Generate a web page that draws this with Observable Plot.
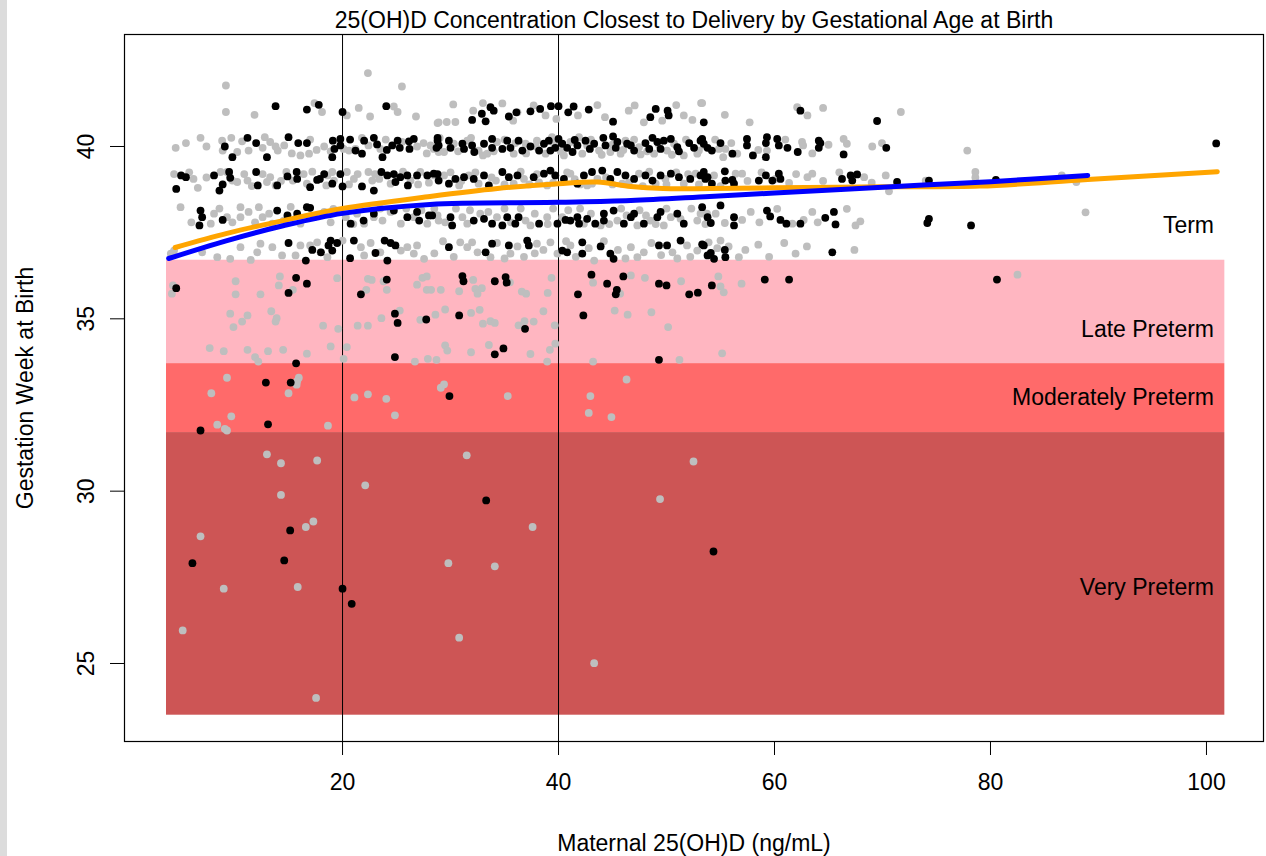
<!DOCTYPE html>
<html>
<head>
<meta charset="utf-8">
<script src="https://cdn.jsdelivr.net/npm/d3@7"></script>
<script src="https://cdn.jsdelivr.net/npm/@observablehq/plot@0.6"></script>
<style>
  html, body { margin: 0; padding: 0; background: #fff; }
  #chart { position: relative; width: 1266px; height: 856px; }
  #edge { position: absolute; left: 0; top: 0; width: 7px; height: 856px; background: #dcdcdc; z-index: 2; }
</style>
</head>
<body>
<div id="chart"><div id="edge"></div></div>
<script>
// ---- Text ----
const title = "25(OH)D Concentration Closest to Delivery by Gestational Age at Birth";
const xLabel = "Maternal 25(OH)D (ng/mL)";
const yLabel = "Gestation Week at Birth";
const xTicks = [20, 40, 60, 80, 100];
const yTicks = [25, 30, 35, 40];

// ---- Gestational-age categories (weeks) ----
const bandNames = ["Term", "Late Preterm", "Moderately Preterm", "Very Preterm"];
const bandLow = [36.7, 33.7, 31.7, 23.5];
const bandHigh = [null, 36.7, 33.7, 31.7];
const bandFill = [null, "#FFB6C1", "#FF6A6A", "#CD5555"];
const bandLabelWeek = [37.7, 34.7, 32.7, 27.2];
const bandRange = [3.7, 101.7];     // 25(OH)D span covered by the shaded bands
const bandLabelAt = 100.7;          // labels are right-aligned here
const cutoffs = [20, 40];           // 25(OH)D reference lines (ng/mL)

// ---- Mothers: [25(OH)D, gestation week] ----
// grey: comparison group, black: highlighted group
const termGrey = [
  [9.2,41.77],[22.35,42.13],[25.5,41.74],[9.2,41.0],[11.85,40.92],[17.4,41.26],[18.1,41.0],[20.4,40.9],[21.5,41.12],[24.75,41.16],[25.1,41.0],[22.55,40.87],[26.8,40.87],[28.9,40.7],
  [4.55,39.96],[6.85,40.25],[7.4,40.0],[8.85,40.17],[9.7,40.25],[8.9,39.88],[10.25,39.84],[11.3,39.88],[12.6,39.96],[13.3,40.13],[13.8,40.0],[14.0,39.88],[14.6,40.03],[16.1,39.74],[16.9,39.79],[17.6,39.9],[18.3,40.0],[20.1,39.93],[20.6,39.88],[21.2,39.93],[22.4,40.03],[23.5,39.93],[25.5,40.13],[26.9,40.0],[27.5,40.1],[28.15,40.03],[28.9,39.84],
  [5.5,40.1],[10.7,40.15],[12.8,40.27],[15.3,39.8],[17.0,40.2],[18.9,39.86],[21.8,40.25],[24.0,40.2],[27.8,39.8],
  [4.4,39.2],[6.2,39.06],[6.6,38.8],[8.7,39.26],[9.3,39.26],[9.8,39.01],[10.25,38.97],[10.9,39.2],[11.2,39.01],[12.6,39.2],[13.0,38.97],[13.3,39.11],[13.8,38.87],[14.8,39.26],[15.4,39.01],[16.4,39.2],[16.7,38.92],[18.6,39.16],[19.05,39.26],[19.2,39.01],[18.5,38.87],[20.4,39.26],[21.05,39.06],[21.4,39.2],[22.4,39.26],[22.75,39.01],[23.4,39.06],[24.45,38.92],[26.3,39.01],[27.2,39.26],[28.5,39.16],
  [5.8,39.25],[7.4,39.1],[11.6,38.85],[14.3,39.0],[17.2,39.27],[20.6,38.9],[23.0,39.2],[25.6,39.27],[27.0,38.9],
  [5.0,38.24],[8.1,38.05],[7.8,37.76],[9.3,37.95],[9.8,37.8],[10.55,38.24],[10.55,37.95],[11.3,38.1],[12.25,38.24],[12.6,37.95],[13.2,38.05],[13.5,37.76],[14.55,37.85],[16.1,37.76],[17.35,37.95],[18.3,38.1],[19.15,38.19],[20.3,37.95],[21.35,38.05],[22.0,37.76],[22.9,37.95],[23.7,37.85],[24.45,38.1],[25.4,37.76],[26.6,37.95],[27.85,37.76],[28.8,38.0],
  [6.0,37.8],[8.6,38.2],[11.9,37.8],[15.2,38.25],[18.9,37.8],[21.0,37.75],[23.5,38.2],[25.9,38.2],[27.3,38.15],
  [4.1,36.89],[4.4,36.98],[7.0,36.93],[8.4,36.79],[9.6,36.74],[10.55,37.08],[11.5,36.71],[12.1,36.93],[12.4,37.18],[13.5,37.08],[14.4,36.84],[15.65,36.84],[16.1,37.13],[17.0,37.13],[17.65,37.22],[17.95,36.93],[18.6,36.79],[20.0,37.27],[21.7,37.08],[22.0,36.84],[22.6,37.2],[23.5,36.93],[25.4,36.98],[26.0,37.08],[26.6,36.89],[26.9,37.13],[27.55,36.74],
  [30.25,41.22],[28.8,40.68],[29.65,40.71],[30.45,40.71],[32.1,41.04],[33.0,41.26],[36.2,40.99],[37.7,41.19],[46.5,41.04],[47.05,41.19],[47.9,40.7],[51.6,40.9],[52.4,40.77],[53.2,41.26],
  [34.8,41.25],[35.8,40.75],[38.8,40.9],[39.8,40.8],[41.8,40.9],[43.6,41.2],[44.3,40.85],[49.6,40.75],[50.9,41.2],
  [28.45,39.93],[29.4,39.84],[30.3,40.08],[31.55,40.17],[32.6,39.88],[33.4,39.79],[34.3,40.13],[35.85,39.79],[36.95,40.08],[38.0,40.17],[38.8,39.79],[39.6,40.08],[40.5,39.74],[41.1,40.13],[42.2,39.79],[42.65,40.03],[43.75,39.88],[44.8,39.84],[45.75,39.79],[46.2,40.17],[47.45,39.98],[47.6,39.77],[48.85,39.79],[50.05,39.88],[50.7,40.08],[51.6,39.74],[52.85,39.79],[53.45,40.03],
  [29.0,40.25],[30.7,39.86],[31.9,40.25],[33.0,39.74],[34.0,39.86],[35.0,40.2],[36.0,40.1],[37.0,39.8],[37.9,40.0],[39.4,40.27],[40.2,39.86],[41.9,40.27],[43.0,40.2],[44.0,39.76],[45.0,40.05],[46.0,39.9],[47.0,40.2],[48.2,39.86],[49.3,40.05],[50.5,39.76],[51.8,40.2],[53.0,39.88],[54.5,40.2],[56.0,40.1],[58.5,39.9],[61.0,40.2],[63.5,39.8],[65.0,40.05],
  [29.4,39.16],[30.8,38.87],[31.7,39.16],[32.6,38.92],[34.2,39.01],[35.85,38.92],[36.8,39.06],[38.2,38.96],[38.95,38.87],[41.1,39.21],[42.65,38.87],[43.6,39.06],[45.9,38.92],[47.45,39.21],[49.0,38.92],[49.9,39.06],[51.6,38.92],[52.7,39.21],
  [28.0,38.95],[30.0,39.25],[31.0,39.0],[32.3,39.25],[33.8,39.1],[35.0,38.9],[36.5,39.27],[37.3,38.9],[38.0,39.2],[39.5,38.95],[40.8,39.25],[41.5,39.05],[42.0,38.9],[43.1,38.92],[44.4,39.1],[45.0,38.9],[46.5,38.95],[47.8,38.85],[48.4,39.27],[50.0,38.9],[50.9,39.25],[52.0,39.2],[53.0,38.9],[55.0,38.85],[57.5,39.0],[58.8,39.25],[62.0,39.2],[64.5,39.0],[66.0,39.25],[69.0,38.95],
  [28.9,37.85],[31.1,37.95],[31.55,37.76],[32.75,38.05],[34.3,37.95],[36.95,37.85],[37.4,37.71],[38.95,37.95],[40.35,37.95],[42.35,37.76],[43.9,37.71],[45.45,37.85],[47.3,37.71],[48.5,37.85],[49.75,37.71],[50.4,37.95],[52.85,37.85],[53.15,38.05],
  [28.5,38.2],[29.5,37.8],[30.5,38.2],[31.8,38.15],[33.5,38.1],[35.0,38.2],[35.6,37.8],[36.5,38.2],[37.8,38.05],[39.0,37.75],[39.5,38.2],[40.9,38.15],[42.0,38.2],[43.0,38.05],[44.7,37.75],[45.8,38.2],[46.3,38.0],[47.5,38.15],[48.1,38.0],[49.0,37.75],[50.0,38.2],[51.3,37.9],[52.3,38.2],[53.6,37.75],[57.8,38.1],[58.6,37.8],[63.5,38.1],[64.0,37.8],
  [30.9,37.22],[31.55,37.08],[32.0,37.22],[32.5,36.93],[33.7,36.79],[35.55,36.89],[38.0,37.18],[39.25,37.22],[39.9,36.89],[41.1,37.13],[43.3,36.69],[46.7,37.08],[47.3,36.79],[47.9,36.93],[50.55,36.93],[51.9,37.13],[52.85,36.98],
  [28.5,36.9],[29.3,37.25],[30.3,36.8],[34.3,37.2],[35.0,36.75],[36.2,37.1],[36.8,36.8],[37.8,36.9],[38.6,37.0],[40.7,37.25],[41.6,36.8],[42.8,37.05],[44.2,37.25],[45.5,37.0],[46.2,36.75],[48.6,37.2],[49.5,36.85],[51.0,36.75],[52.2,36.8],[54.7,37.05],[58.5,37.15],[59.5,36.8],[63.0,37.1],
  [53.3,41.26],[55.4,40.92],[57.7,40.7],[62.1,41.14],[63.05,40.9],[64.5,41.12],[71.7,41.0],
  [54.85,39.93],[55.45,39.93],[55.25,39.69],[56.55,39.79],[59.3,39.88],[62.55,40.13],[62.65,40.03],[66.4,40.22],[66.7,40.08],[69.05,40.0],[69.95,40.1],[77.85,39.88],
  [54.4,39.16],[56.4,39.21],[57.0,39.21],[60.1,39.06],[61.35,38.94],[63.05,39.11],[63.5,39.21],[68.3,39.11],[70.3,39.16],[70.6,38.7],[74.0,39.01],[78.6,39.26],
  [53.75,38.05],[54.55,38.05],[55.4,37.78],[57.0,37.87],[60.25,38.19],[61.65,37.76],[62.7,37.87],[66.7,38.19],[67.5,37.71],[67.95,37.83],
  [53.9,37.22],[55.0,37.27],[55.75,37.1],[56.7,36.79],[57.3,37.0],[60.9,37.2],[61.95,36.89],[67.4,37.0],
  [78.6,39.1],[86.6,39.16],[87.95,38.97],[88.8,38.09]
];
const pretermGrey = [
  [4.3,35.97],[4.2,35.73],[10.1,36.09],[10.1,35.71],[12.4,35.71],[14.2,36.23],[14.1,35.97],[15.4,35.84],[19.5,36.18],[9.6,35.15],[11.2,35.10],[10.7,34.92],[9.9,34.76],[13.4,35.22],[13.9,35.02],[13.8,34.92],[18.2,34.8],[19.6,34.71],[7.7,34.15],[9.0,34.06],[11.2,34.1],[11.9,33.89],[12.2,33.76],[13.1,34.06],[14.5,34.1],[16.7,33.99],[18.9,34.2],[20.4,34.18],[20.1,33.84],[22.35,36.16],[22.7,36.13],[22.2,35.84],[24.1,35.84],[23.8,36.09],[25.3,35.24],[23.6,35.02],[21.4,34.8],[22.35,34.8],[26.7,33.76],[27.9,33.84],[28.7,33.81],[26.9,35.99],[27.4,36.19],[27.8,36.23],[27.8,35.84],[28.2,35.84],[29.1,35.84],[27.2,34.97],[28.6,35.12],[29.5,35.27],[29.5,34.23],[29.7,34.08],
  [9.3,33.29],[15.95,33.29],[15.8,33.19],[15.75,33.09],[15.0,32.84],[7.85,32.84],[9.7,32.17],[8.4,31.93],[9.1,31.81],[9.3,31.76],[18.65,31.9],[21.1,32.72],[22.35,32.81],[24.05,32.68],[24.85,32.2],[29.1,33.0],[29.4,33.1],
  [13.0,31.07],[14.3,30.81],[17.65,30.89],[14.3,29.89],[22.1,30.17],
  [49.4,29.77],[6.85,28.69],[16.6,28.96],[17.3,29.12],[37.6,28.96],[29.8,27.91],[34.1,27.82],[9.0,27.17],[15.85,27.22],[5.2,25.96],[30.8,25.75],[43.3,25.01],[17.55,24.0],
  [32.1,36.13],[35.5,36.06],[30.8,35.80],[32.3,35.87],[32.5,35.73],[32.9,35.89],[31.9,35.17],[32.7,35.26],[33.0,34.86],[33.7,34.93],[34.1,34.88],[36.6,35.79],[37.0,35.73],[39.0,35.75],[39.35,36.19],[38.6,35.22],[36.3,34.81],[36.85,34.93],[37.7,34.92],[39.65,34.81],[31.9,34.03],[33.55,34.24],[37.4,33.98],[39.2,34.1],[39.7,34.28],[38.95,33.76],
  [43.2,36.05],[46.7,36.26],[48.0,36.19],[45.7,35.73],[45.2,35.24],[46.4,35.12],[48.6,35.19],[51.35,36.09],[54.8,36.23],[55.0,35.94],[55.3,35.77],[50.15,34.76],[43.2,33.76],[51.2,33.81],[55.15,34.0],
  [35.3,32.76],[46.3,33.24],[42.95,32.76],[42.8,32.27],[44.9,32.15],[31.5,31.04],[52.5,30.86],
  [56.95,36.02],[82.5,36.28]
];
const termBlack = [
  [13.8,41.17],[16.7,41.07],[17.8,41.21],[20.0,41.0],[24.05,41.17],
  [9.1,40.0],[9.8,39.69],[11.2,40.25],[12.0,40.1],[13.0,39.69],[15.0,40.27],[15.9,40.1],[16.7,40.1],[19.1,40.17],[19.25,39.93],[19.8,40.22],[19.8,40.03],[19.05,39.69],[20.7,40.2],[21.2,39.88],[21.8,39.79],[22.0,40.17],[22.9,40.25],[23.2,40.06],[23.7,39.69],[24.1,39.9],[24.6,40.03],[25.1,40.17],[25.3,39.96],[26.15,40.15],[26.2,39.93],[26.6,40.22],[28.8,40.25],[28.7,39.96],
  [5.05,39.16],[5.5,39.11],[4.6,38.77],[8.1,39.16],[9.5,39.26],[9.6,39.09],[8.9,38.9],[8.6,38.72],[12.0,39.26],[12.15,38.87],[13.95,38.87],[14.9,39.13],[15.75,39.26],[15.8,39.06],[17.0,38.82],[17.65,39.03],[18.3,39.2],[17.9,39.06],[19.05,38.92],[19.8,39.2],[20.0,38.84],[21.8,38.84],[22.9,38.72],[23.6,39.26],[24.15,39.16],[24.75,39.2],[24.9,38.97],[25.35,39.11],[26.05,38.87],[26.0,39.16],[26.9,39.16],[27.85,39.16],[28.8,39.2],
  [6.85,38.14],[7.0,37.95],[6.75,37.71],[8.9,37.87],[13.95,38.14],[14.9,38.0],[15.8,38.05],[16.7,38.24],[17.0,38.22],[20.75,37.76],[21.95,37.85],[22.9,38.05],[24.75,38.14],[26.0,37.95],[26.9,38.1],[27.1,37.85],[28.0,38.0],
  [15.0,37.2],[16.6,36.69],[17.2,37.0],[18.0,36.93],[18.9,37.27],[19.05,36.98],[18.7,37.13],[19.5,37.2],[20.7,36.76],[21.05,37.27],[23.05,36.91],[23.9,37.27],[24.15,36.69],[24.45,37.2],[24.9,37.13],
  [32.0,40.77],[32.9,40.95],[33.25,40.73],[33.7,41.14],[34.0,41.04],[35.4,40.87],[36.1,40.99],[37.4,41.02],[38.3,41.09],[39.3,41.17],[40.0,41.17],[40.9,40.99],[41.4,41.16],[42.8,41.07],[45.05,40.72],[48.5,40.85],[49.0,41.09],[50.1,41.04],[50.2,40.9],
  [28.8,40.17],[28.9,40.03],[29.85,40.17],[30.0,39.96],[31.1,40.08],[31.25,39.93],[32.0,40.03],[32.2,39.84],[33.1,40.08],[33.85,40.22],[33.85,39.96],[34.8,39.93],[35.25,40.17],[35.55,39.96],[36.3,40.17],[36.65,39.88],[37.4,40.0],[38.2,39.88],[38.65,40.08],[39.1,40.17],[39.25,39.88],[39.7,39.96],[40.0,40.22],[40.35,40.08],[40.8,39.96],[41.3,39.84],[41.5,40.19],[41.75,40.03],[42.5,40.17],[42.9,39.93],[43.3,40.08],[44.15,40.25],[44.35,40.03],[45.05,40.29],[45.3,39.96],[45.45,40.13],[46.35,40.08],[46.7,40.03],[47.0,39.88],[48.05,40.1],[48.4,39.93],[48.7,40.25],[49.15,40.13],[49.45,39.93],[49.75,40.17],[50.4,40.22],[51.0,39.98],[51.15,39.86],[52.1,40.1],[52.55,39.96],[53.15,40.17],[53.8,39.96],
  [28.45,39.21],[28.9,39.01],[29.85,38.92],[30.45,39.06],[31.25,39.11],[32.15,39.06],[33.1,39.16],[33.55,38.87],[34.8,39.26],[35.4,39.11],[36.2,39.16],[37.7,39.11],[38.65,39.21],[39.25,39.3],[39.7,39.16],[40.5,39.06],[41.75,38.92],[42.35,39.16],[43.1,39.26],[44.05,39.3],[44.8,39.06],[45.45,39.26],[46.2,39.16],[47.0,39.06],[48.05,39.16],[48.7,39.01],[49.45,39.16],[50.4,39.21],[51.15,39.11],[52.2,39.06],[53.15,39.16],[53.8,39.11],
  [28.3,38.0],[30.0,37.95],[30.15,37.71],[32.15,37.85],[33.1,37.9],[33.85,37.76],[34.8,37.71],[35.25,37.95],[36.0,37.76],[36.3,37.95],[38.2,37.76],[39.9,37.76],[40.65,37.87],[41.1,37.85],[41.75,37.95],[41.9,37.76],[42.65,37.9],[43.4,37.76],[44.2,37.85],[44.2,38.05],[45.1,38.14],[46.05,37.76],[46.7,37.95],[47.0,38.05],[47.9,37.76],[49.15,37.95],[49.45,38.1],[51.0,38.05],[51.6,37.76],[53.8,37.95],
  [29.85,37.08],[33.25,36.93],[33.85,37.18],[35.4,37.13],[37.1,37.27],[37.25,37.13],[40.35,36.98],[40.8,36.93],[42.2,37.22],[42.2,36.89],[43.9,37.1],[44.8,36.89],[45.1,36.74],[49.3,37.13],[50.05,37.13],[51.3,37.27],[53.45,37.13],[53.8,36.84],
  [53.45,40.7],[62.4,41.04],[69.5,40.74],
  [53.3,40.22],[53.45,40.08],[55.0,40.1],[54.2,39.88],[56.1,39.79],[57.45,40.22],[57.45,40.03],[58.0,39.74],[59.2,40.1],[59.3,40.27],[59.2,39.69],[60.25,40.22],[60.4,40.03],[61.2,39.96],[62.15,39.84],[64.1,40.17],[64.1,39.96],[64.25,40.1],[66.4,39.77],[70.35,39.96],
  [53.45,39.26],[53.6,39.06],[54.2,38.92],[55.4,39.28],[55.45,39.01],[56.1,39.03],[56.25,38.92],[58.55,39.01],[59.2,39.16],[59.8,39.01],[60.4,39.21],[60.55,39.06],[66.25,39.06],[67.05,39.16],[67.2,39.01],[67.65,39.19],[71.35,38.97],[74.3,39.01],
  [53.3,38.24],[55.0,38.29],[54.1,37.78],[56.25,37.95],[56.25,37.71],[59.3,38.14],[59.6,37.97],[60.55,37.87],[61.1,37.76],[62.4,37.76],[64.7,37.93],[65.5,38.1],[65.65,37.74],[74.3,37.9],[74.15,37.78],[78.2,37.71],
  [53.3,37.16],[54.1,36.91],[54.4,36.74],[55.4,37.0],[55.45,36.79],[65.35,36.93],
  [80.5,39.03],[100.9,40.09]
];
const pretermBlack = [
  [4.6,35.89],[15.7,36.19],[16.7,36.02],[15.0,35.75],[24.1,36.14],[21.7,35.71],[24.85,35.15],[25.1,34.88],[24.85,33.89],[27.75,34.98],[15.7,33.71],[12.9,33.15],[15.2,33.15],[6.85,31.76],[13.1,31.94],[29.9,32.76],
  [33.3,29.73],[15.15,28.86],[6.1,27.91],[14.6,27.99],[54.35,28.25],[20.0,27.17],[20.85,26.73],
  [31.1,36.24],[31.2,36.09],[34.1,36.09],[35.1,36.21],[35.2,36.05],[30.8,35.1],[36.9,34.71],[34.1,33.97],[34.9,34.14],
  [43.05,36.28],[44.5,36.02],[46.0,36.23],[41.8,35.71],[45.4,35.84],[45.3,35.71],[42.3,35.1],[49.3,36.02],[50.0,35.97],[52.1,35.71],[52.9,35.76],[54.2,35.97],[49.3,33.81],
  [59.1,36.14],[61.35,36.14],[80.6,36.14]
];

// ---- Smoothed trends: [25(OH)D, gestation week] ----
const orangeFit = [
  [4.5,37.07],[9.3,37.48],[14.5,37.85],[20,38.2],[28.1,38.55],[34.35,38.78],[40,38.92],[43.6,38.97],
  [46.7,38.84],[49.7,38.78],[54.1,38.78],[60,38.8],[70,38.83],[79,38.85],[89,39.04],[101,39.27]
];
const blueFit = [
  [3.9,36.75],[9.3,37.27],[14.5,37.7],[20,38.06],[28.1,38.32],[40,38.38],[46.7,38.43],
  [54,38.55],[60,38.65],[70,38.82],[80,38.98],[89,39.16]
];

const bands = bandNames.map((name, i) => ({
  name, low: bandLow[i], high: bandHigh[i], fill: bandFill[i], labelWeek: bandLabelWeek[i]
}));
const shaded = bands.filter(d => d.high != null);

const font = "'Liberation Sans', Arial, Helvetica, sans-serif";
const fs = 23;
const px = d => d[0], py = d => d[1];
const dotR = 3.9;

const chart = Plot.plot({
  width: 1266,
  height: 856,
  marginTop: 34,
  marginBottom: 115,
  marginLeft: 124,
  marginRight: 3,
  style: {fontFamily: font, fontSize: fs + "px", background: "transparent", color: "black"},
  x: {domain: [-0.19, 105.28]},
  y: {domain: [22.737, 43.249]},
  color: {type: "identity"},
  marks: [
    Plot.rect(shaded, {x1: () => bandRange[0], x2: () => bandRange[1], y1: "low", y2: "high", fill: "fill"}),
    Plot.ruleX(cutoffs, {stroke: "black", strokeWidth: 1}),
    Plot.dot(termGrey.concat(pretermGrey), {x: px, y: py, r: dotR, fill: "#BEBEBE"}),
    Plot.dot(termBlack.concat(pretermBlack), {x: px, y: py, r: dotR, fill: "black"}),
    Plot.line(orangeFit, {x: px, y: py, stroke: "#FFA500", strokeWidth: 5, curve: "catmull-rom"}),
    Plot.line(blueFit, {x: px, y: py, stroke: "#0000FF", strokeWidth: 5, curve: "catmull-rom"}),
    Plot.text(bands, {x: () => bandLabelAt, y: "labelWeek", text: "name", textAnchor: "end", lineAnchor: "middle", fontSize: fs, fill: "black"}),
    Plot.frame({stroke: "black", strokeWidth: 1.2}),
    Plot.axisX(xTicks, {tickSize: 14, tickPadding: 18, fontSize: fs, label: null}),
    Plot.axisY(yTicks, {tickSize: 14, tickPadding: 17, tickRotate: -90, fontSize: fs, label: null}),
    Plot.text([title], {frameAnchor: "top", dy: -14, text: d => d, textAnchor: "middle", lineAnchor: "middle", fontSize: fs}),
    Plot.text([xLabel], {frameAnchor: "bottom", dy: 102, text: d => d, textAnchor: "middle", lineAnchor: "middle", fontSize: fs}),
    Plot.text([yLabel], {frameAnchor: "left", dx: -99, rotate: -90, text: d => d, textAnchor: "middle", lineAnchor: "middle", fontSize: fs})
  ]
});

document.getElementById("chart").appendChild(chart);
</script>
</body>
</html>
